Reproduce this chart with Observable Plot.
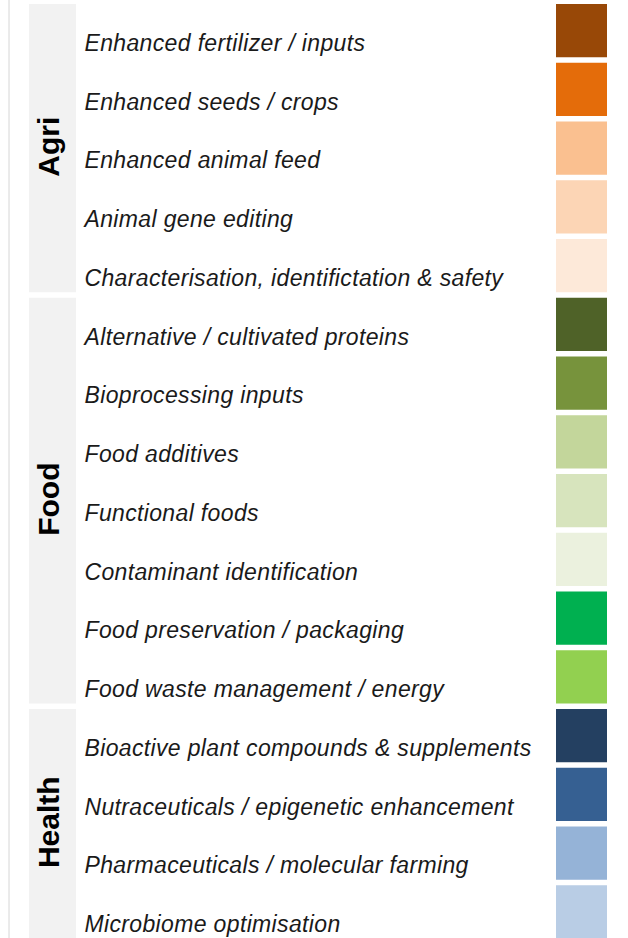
<!DOCTYPE html>
<html><head><meta charset="utf-8">
<script src="https://cdn.jsdelivr.net/npm/d3@7"></script>
<script src="https://cdn.jsdelivr.net/npm/@observablehq/plot@0.6"></script>
<style>
html,body{margin:0;padding:0;background:#fff;overflow:hidden}
#chart svg{display:block}
</style>
</head><body><div id="chart"></div>
<script>
// ---- data ----
const categories = [
  "Enhanced fertilizer / inputs",
  "Enhanced seeds / crops",
  "Enhanced animal feed",
  "Animal gene editing",
  "Characterisation, identifictation & safety",
  "Alternative / cultivated proteins",
  "Bioprocessing inputs",
  "Food additives",
  "Functional foods",
  "Contaminant identification",
  "Food preservation / packaging",
  "Food waste management / energy",
  "Bioactive plant compounds & supplements",
  "Nutraceuticals / epigenetic enhancement",
  "Pharmaceuticals / molecular farming",
  "Microbiome optimisation"
];
const groups = [
  "Agri","Agri","Agri","Agri","Agri",
  "Food","Food","Food","Food","Food","Food","Food",
  "Health","Health","Health","Health"
];
const colors = [
  "#984807","#E46C0A","#FAC090","#FCD5B5","#FDE9D9",
  "#4F6228","#77933C","#C3D69B","#D7E4BD","#EBF1DE","#00B050","#92D050",
  "#244061","#366092","#95B3D7","#B9CDE5"
];
const groupNames = ["Agri","Food","Health"];

// ---- derived tables ----
const rows = categories.map((c, i) => ({category: c, group: groups[i], color: colors[i], i}));
const bands = groupNames.map(g => {
  const r = rows.filter(d => d.group === g);
  return {group: g, start: r[0].i, end: r[r.length - 1].i + 1};
});

// ---- layout ----
const W = 628, H = 938;
const topY = 4, step = 58.75, gap = 5.5;
const font = "'Liberation Sans', Arial, Helvetica, sans-serif";

const chart = Plot.plot({
  width: W, height: H,
  margin: 0,
  style: {fontFamily: font, background: "#fff"},
  x: {type: "linear", domain: [0, W], range: [0, W], axis: null},
  y: {type: "linear", domain: [0, categories.length], range: [topY, topY + categories.length * step], axis: null},
  marks: [
    Plot.ruleX([8.5], {stroke: "#d6d6d6", strokeWidth: 1}),
    Plot.rect(bands, {x1: () => 29, x2: () => 76, y1: "start", y2: "end", insetBottom: gap, fill: "#f2f2f2"}),
    Plot.text(bands, {
      x: () => 49, y: d => (d.start + d.end) / 2, dy: -gap / 2 - 2,
      text: "group", rotate: -90, fontWeight: "bold", fontSize: 30,
      fill: "#000", textAnchor: "middle", lineAnchor: "middle"
    }),
    Plot.rect(rows, {x1: () => 556, x2: () => 607, y1: "i", y2: d => d.i + 1, insetBottom: gap, fill: "color"}),
    Plot.text(rows, {
      x: () => 84, y: d => d.i + 0.5, dy: 9.5,
      text: "category", textAnchor: "start", fontStyle: "italic",
      fontSize: 23, fill: "#1a1a1a"
    })
  ]
});
chart.querySelectorAll("g[aria-label='text'] text").forEach(t => {
  if (t.getAttribute("font-style") === "italic" || t.closest("g").getAttribute("font-style") === "italic") t.style.letterSpacing = "0.35px";
});
document.getElementById("chart").appendChild(chart);
</script>
</body></html>
